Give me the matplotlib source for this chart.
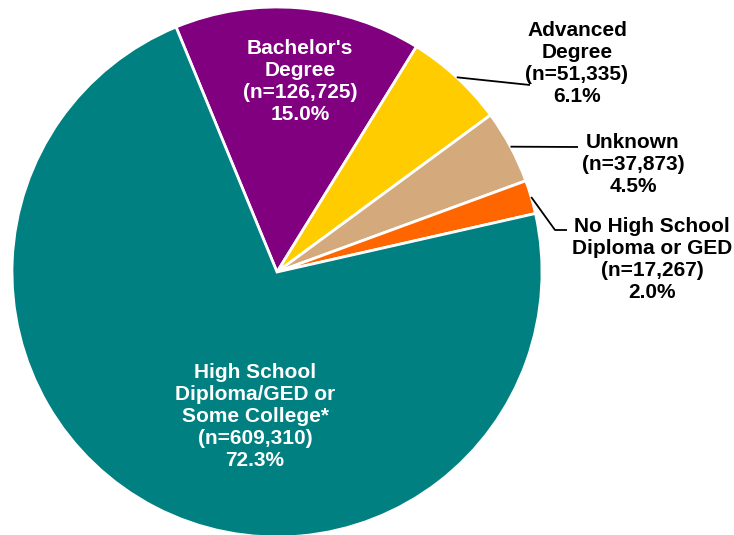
import numpy as np
import matplotlib.pyplot as plt

# data, clockwise from the teal/purple boundary
CATEGORIES = ["Bachelor's\nDegree", "Advanced\nDegree", "Unknown",
              "No High School\nDiploma or GED",
              "High School\nDiploma/GED or\nSome College*"]
COUNTS = [126725, 51335, 37873, 17267, 609310]
COLORS = ["#800080", "#FFCC00", "#D4AA7D", "#FF6600", "#008080"]

W, H = 734, 535
CENTER = (277, H - 272)
RADIUS = 265

# label anchors (pixel coords, y from top), leader elbows for outside labels
INSIDE = {0: (300, 81), 4: (255, 417)}
OUTSIDE = {
    1: {"xy": (577, 64), "path": [(530, 85)]},
    2: {"xy": (633, 164), "path": [(578, 147)]},
    3: {"xy": (652, 260), "path": [(555, 230), (567, 230)]},
}

plt.rcParams["font.family"] = ["Liberation Sans", "DejaVu Sans"]

fig = plt.figure(figsize=(W / 100, H / 100), dpi=100)
ax = fig.add_axes([0, 0, 1, 1])

total = sum(COUNTS)
start = 90 + 22.4
wedges, _ = ax.pie(COUNTS, colors=COLORS, startangle=start, counterclock=False,
                   center=CENTER, radius=RADIUS,
                   wedgeprops=dict(edgecolor="white", linewidth=2))
ax.set_xlim(0, W)
ax.set_ylim(0, H)
ax.set_aspect("equal")
ax.axis("off")

for i, (name, n) in enumerate(zip(CATEGORIES, COUNTS)):
    text = f"{name}\n(n={n:,})\n{100 * n / total:.1f}%"
    if i in INSIDE:
        x, y = INSIDE[i]
        ax.text(x, H - y, text, color="white", fontsize=15, fontweight="bold",
                ha="center", va="center", linespacing=1.2)
    else:
        w = wedges[i]
        mid = np.deg2rad((w.theta1 + w.theta2) / 2)
        x0 = CENTER[0] + RADIUS * np.cos(mid)
        y0 = CENTER[1] + RADIUS * np.sin(mid)
        pts = [(x0, y0)] + [(px, H - py) for px, py in OUTSIDE[i]["path"]]
        xs, ys = zip(*pts)
        ax.plot(xs, ys, color="black", lw=1.3, solid_capstyle="butt")
        x, y = OUTSIDE[i]["xy"]
        ax.text(x, H - y, text, color="black", fontsize=15, fontweight="bold",
                ha="center", va="center", linespacing=1.2)

fig.savefig("out.png", dpi=100)
